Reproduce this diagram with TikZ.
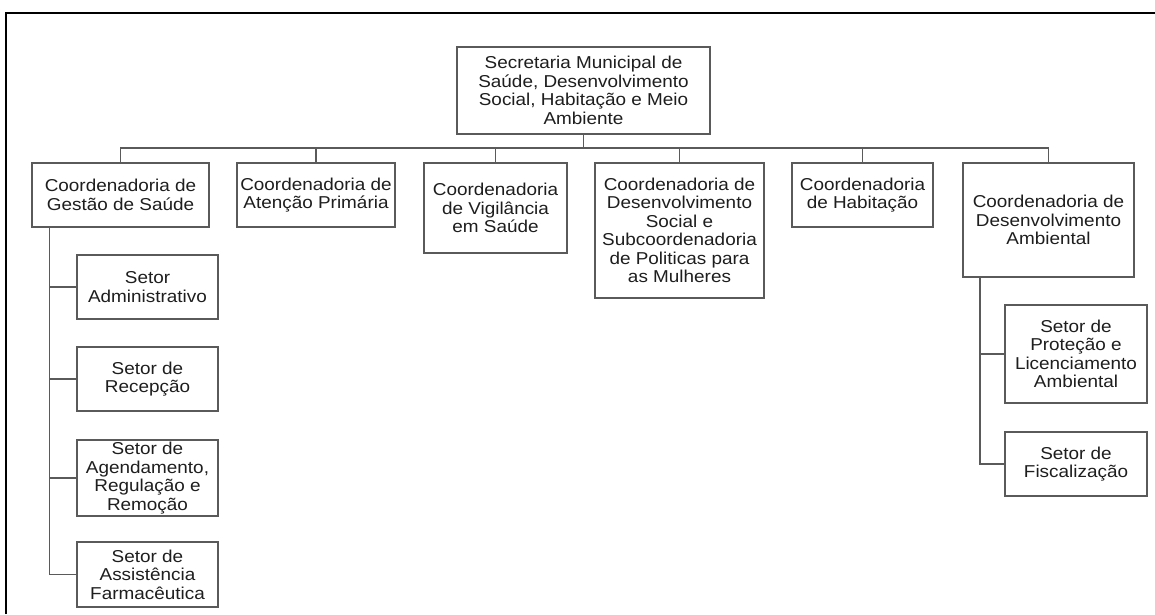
\documentclass[tikz,border=0pt]{standalone}
\usepackage{fontspec}
\setmainfont{Liberation Sans}[FakeStretch=1.1]
\definecolor{boxline}{HTML}{5A5A5A}
\definecolor{txt}{HTML}{1E1E1E}
\begin{document}
\begin{tikzpicture}[x=1pt,y=-1pt,
  orgbox/.style={draw=boxline, line width=1.1pt, inner sep=0pt, align=center,
    text=txt, font=\fontsize{17.2}{18.5}\selectfont, fill=white},
  link/.style={draw=boxline, line width=1.1pt},
  frameline/.style={draw=black, line width=2pt}]
\useasboundingbox (0,0) rectangle (1155,614);
% frame
\draw[frameline] (6,614) -- (6,13) -- (1155,13);
% top
\node[orgbox, minimum width=253pt, minimum height=87pt] (top) at (583.5,90.5)
  {Secretaria Municipal de\\Saúde, Desenvolvimento\\Social, Habitação e Meio\\Ambiente};
% coordinators
\node[orgbox, minimum width=177pt, minimum height=64pt] (c1) at (120.5,195)
  {Coordenadoria de\\Gestão de Saúde};
\node[orgbox, minimum width=158pt, minimum height=64pt] (c2) at (316,195)
  {Coordenadoria de\\Atenção Primária};
\node[orgbox, minimum width=143pt, minimum height=90pt] (c3) at (495.5,208)
  {Coordenadoria\\de Vigilância\\em Saúde};
\node[orgbox, minimum width=169pt, minimum height=135pt] (c4) at (679.5,230.5)
  {Coordenadoria de\\Desenvolvimento\\Social e\\Subcoordenadoria\\de Politicas para\\as Mulheres};
\node[orgbox, minimum width=141pt, minimum height=64pt] (c5) at (862.5,195)
  {Coordenadoria\\de Habitação};
\node[orgbox, minimum width=171pt, minimum height=114pt] (c6) at (1048.5,220)
  {Coordenadoria de\\Desenvolvimento\\Ambiental};
% sub boxes left
\node[orgbox, minimum width=141pt, minimum height=64pt] (s1) at (147.5,287)
  {Setor\\Administrativo};
\node[orgbox, minimum width=141pt, minimum height=64pt] (s2) at (147.5,379)
  {Setor de\\Recepção};
\node[orgbox, minimum width=141pt, minimum height=76pt] (s3) at (147.5,478)
  {Setor de\\Agendamento,\\Regulação e\\Remoção};
\node[orgbox, minimum width=141pt, minimum height=65pt] (s4) at (147.5,574.5)
  {Setor de\\Assistência\\Farmacêutica};
% sub boxes right
\node[orgbox, minimum width=142pt, minimum height=98pt] (e1) at (1076,354)
  {Setor de\\Proteção e\\Licenciamento\\Ambiental};
\node[orgbox, minimum width=142pt, minimum height=64pt] (e2) at (1076,464)
  {Setor de\\Fiscalização};
% connectors
\coordinate (bus) at (583.5,148);
\draw[link] (top.south) -- (bus);
\draw[link] (c1.north) |- (bus) -| (c6.north);
\foreach \n in {c2,c3,c4,c5} \draw[link] (\n.north) -- (\n.north |- bus);
\coordinate (v1) at ([xshift=18pt]c1.south west);
\draw[link] (v1) |- (s4.west);
\foreach \n in {s1,s2,s3} \draw[link] (\n.west) -- (\n.west -| v1);
\coordinate (v2) at ([xshift=17.5pt]c6.south west);
\draw[link] (v2) |- (e2.west);
\draw[link] (e1.west) -- (e1.west -| v2);
\end{tikzpicture}
\end{document}
